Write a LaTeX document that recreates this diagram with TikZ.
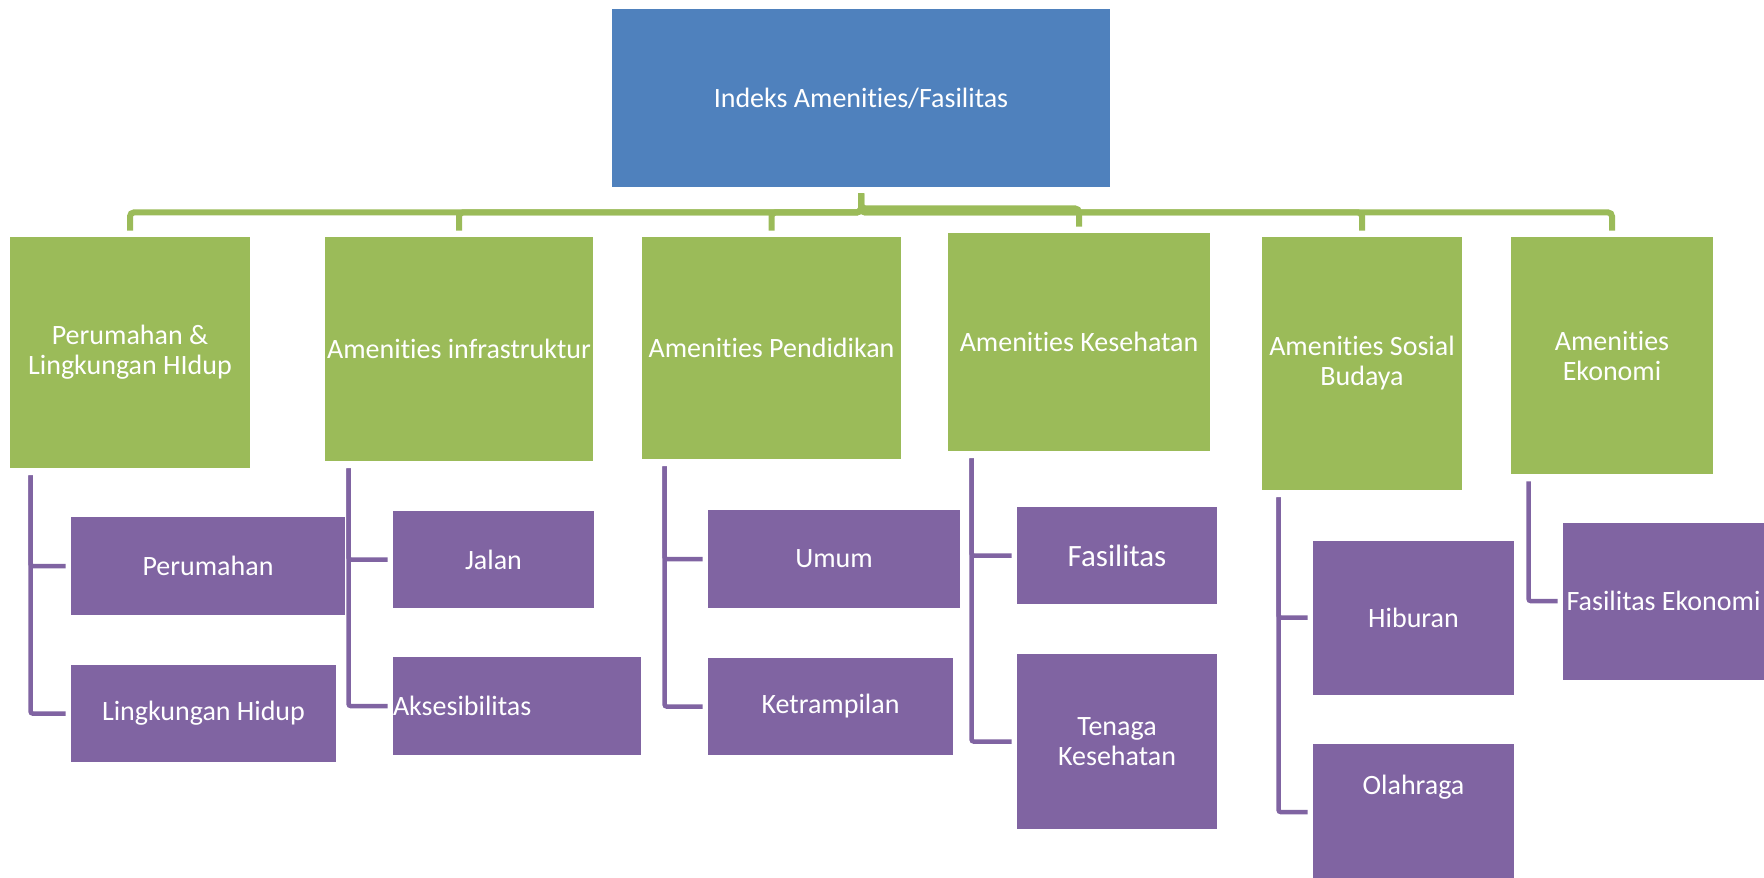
\documentclass[tikz,border=0pt]{standalone}
\usepackage{fontspec}
\setmainfont[Ligatures={NoCommon,NoContextual}, RawFeature={-calt}]{Carlito}
\usepackage{xcolor}
\usepackage{tikz}
\usetikzlibrary{calc, positioning}

\definecolor{topblue}{HTML}{4F81BD}
\definecolor{catgreen}{HTML}{9BBB59}
\definecolor{subpurple}{HTML}{8064A2}

\begin{document}
\begin{tikzpicture}[x=0.5pt, y=-0.5pt,
    box/.style={inner sep=0pt, align=center, text=white, font=\fontsize{14}{15}\selectfont},
    topbox/.style={box, fill=topblue},
    catbox/.style={box, fill=catgreen},
    subbox/.style={box, fill=subpurple},
    catline/.style={draw=catgreen, line width=3pt, rounded corners=2pt},
    subline/.style={draw=subpurple, line width=2.25pt, rounded corners=1pt}]
    \useasboundingbox (0,0) rectangle (1764,877);

    % Top
    \node[topbox, minimum width=249pt, minimum height=89pt] (top) at (861,98) {Indeks Amenities/Fasilitas};

    % Categories
    \node[catbox, minimum width=120pt, minimum height=115.5pt] (g1) at (130,352.5) {Perumahan \&\\Lingkungan HIdup};
    \node[catbox, minimum width=134pt, minimum height=112pt] (g2) at (459,349) {Amenities infrastruktur};
    \node[catbox, minimum width=129.5pt, minimum height=111pt] (g3) at (771.5,348) {Amenities Pendidikan};
    \node[catbox, minimum width=131pt, minimum height=109pt] (g4) at (1079,342) {Amenities Kesehatan};
    \node[catbox, minimum width=100pt, minimum height=126.5pt] (g5) at (1362,363.5) {Amenities Sosial\\Budaya};
    \node[catbox, minimum width=101pt, minimum height=118.5pt] (g6) at (1612,355.5) {Amenities\\Ekonomi};

    % Top to categories
    \coordinate (hub) at ($(top.south)+(0,25)$);
    \foreach \g in {g1,g2,g3,g5,g6}
    \draw[catline] ($(top.south)+(0,6)$) -- (hub) -| ($(\g.north)+(0,-6)$);
    \draw[catline] ($(top.south)+(0,6)$) -- ++(0,15) -| ($(g4.north)+(0,-6)$);

    % Sub items
    \node[subbox, minimum width=137pt, minimum height=49pt] (p1) at (208,566) {Perumahan};
    \node[subbox, minimum width=132.5pt, minimum height=48.5pt] (p2) at (203.5,713.5) {Lingkungan Hidup};
    \node[subbox, minimum width=100.5pt, minimum height=48.5pt] (p3) at (493.5,559.5) {Jalan};
    \node[subbox, minimum width=124pt, minimum height=48.75pt, text width=124pt, align=left] (p4) at (517,706) {Aksesibilitas};
    \node[subbox, minimum width=126pt, minimum height=49pt] (p5) at (834,559) {Umum};
    \node[subbox, minimum width=122.5pt, minimum height=48.5pt] (p6) at (830.5,706.5) {Ketrampilan};
    \node[subbox, minimum width=100pt, minimum height=48.5pt, font=\fontsize{15.5}{17}\selectfont] (p7) at (1117,555.5) {Fasilitas};
    \node[subbox, minimum width=100pt, minimum height=87.5pt] (p8) at (1117,741.5) {Tenaga\\Kesehatan};
    \node[subbox, minimum width=100.5pt, minimum height=77pt] (p9) at (1413.5,617.5) {Hiburan};
    \node[subbox, minimum width=100.5pt, minimum height=68pt, text depth=27pt] (p10) at (1413.5,812) {Olahraga};
    \node[subbox, minimum width=100.5pt, minimum height=78.5pt] (p11) at (1663.5,601) {Fasilitas Ekonomi};

    % Categories to sub items
    \coordinate (t1) at ($(g1.south west)+(21,7)$);
    \coordinate (t2) at ($(g2.south west)+(24,7)$);
    \coordinate (t3) at ($(g3.south west)+(23,7)$);
    \coordinate (t4) at ($(g4.south west)+(24,7)$);
    \coordinate (t5) at ($(g5.south west)+(17,7)$);
    \coordinate (t6) at ($(g6.south west)+(18,7)$);
    \draw[subline] (t1) |- ($(p1.west)+(-5,0)$);
    \draw[subline] (t1) |- ($(p2.west)+(-5,0)$);
    \draw[subline] (t2) |- ($(p3.west)+(-5,0)$);
    \draw[subline] (t2) |- ($(p4.west)+(-5,0)$);
    \draw[subline] (t3) |- ($(p5.west)+(-5,0)$);
    \draw[subline] (t3) |- ($(p6.west)+(-5,0)$);
    \draw[subline] (t4) |- ($(p7.west)+(-5,0)$);
    \draw[subline] (t4) |- ($(p8.west)+(-5,0)$);
    \draw[subline] (t5) |- ($(p9.west)+(-5,0)$);
    \draw[subline] (t5) |- ($(p10.west)+(-5,0)$);
    \draw[subline] (t6) |- ($(p11.west)+(-5,0)$);
\end{tikzpicture}
\end{document}
